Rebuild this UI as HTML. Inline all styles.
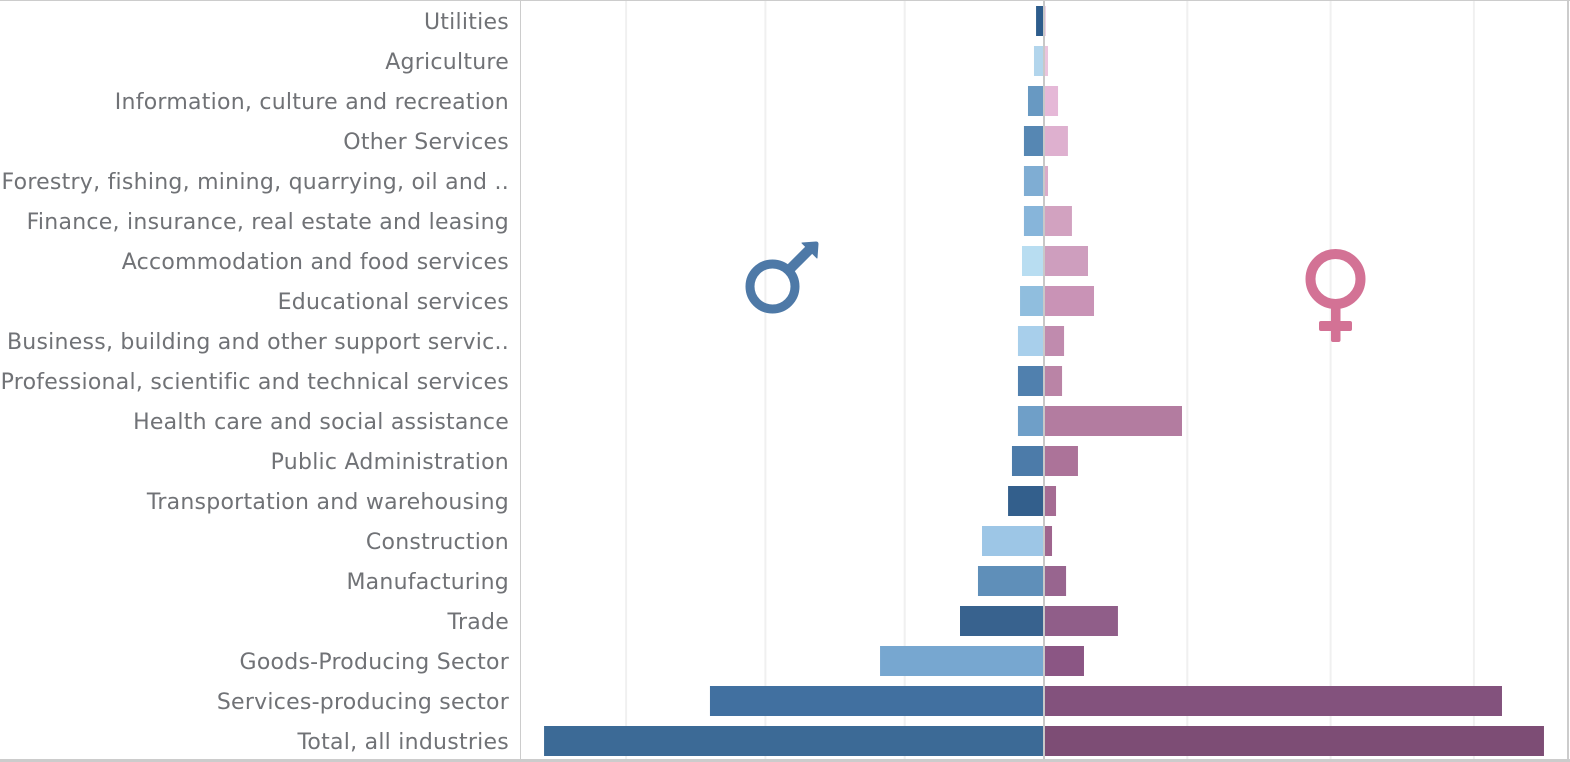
<!DOCTYPE html>
<html lang="en">
<head>
<meta charset="utf-8">
<title>Employment by industry and sex</title>
<style>
  html, body { margin: 0; padding: 0; background: #fff; }
  body { width: 1570px; height: 762px; overflow: hidden; }
  svg { display: block; }
  .cat { font-family: "DejaVu Sans", "Liberation Sans", sans-serif; font-size: 22px; letter-spacing: 0.25px; fill: #707276; text-anchor: end; }
</style>
</head>
<body>
<svg id="chart" width="1570" height="762" viewBox="0 0 1570 762" xmlns="http://www.w3.org/2000/svg">
  <rect x="0" y="0" width="1570" height="762" fill="#ffffff"/>
  <g id="grid"></g>
  <g id="bars"></g>
  <g id="labels"></g>
  <rect x="1043" y="0" width="2" height="760" fill="#c8c8c8"/>
  <rect x="520" y="0" width="1" height="760" fill="#cccccc"/>
  <rect x="0" y="0" width="1570" height="1" fill="#cccccc"/>
  <rect x="0" y="759" width="1570" height="3" fill="#cccccc"/>
  <rect x="1567" y="0" width="2" height="762" fill="#cccccc"/>
  <g>
    <circle cx="772.5" cy="286.5" r="22.5" fill="none" stroke="#4e79a7" stroke-width="9"/>
    <path d="M790 269 L810 249" stroke="#4e79a7" stroke-width="10" fill="none"/>
    <path d="M802 243 L816 242 Q818 242 818 244 L817 258 Z" fill="#4e79a7" stroke="#4e79a7" stroke-width="1" stroke-linejoin="round"/>
  </g>
  <g>
    <circle cx="1335.5" cy="279" r="25" fill="none" stroke="#d37295" stroke-width="10"/>
    <rect x="1331" y="303" width="9.5" height="39" rx="2" fill="#d37295"/>
    <rect x="1319" y="321" width="33" height="10" rx="2" fill="#d37295"/>
  </g>
</svg>
<script>
const categories = [
  "Utilities", "Agriculture", "Information, culture and recreation", "Other Services",
  "Forestry, fishing, mining, quarrying, oil and ..", "Finance, insurance, real estate and leasing",
  "Accommodation and food services", "Educational services",
  "Business, building and other support servic..", "Professional, scientific and technical services",
  "Health care and social assistance", "Public Administration",
  "Transportation and warehousing", "Construction", "Manufacturing", "Trade",
  "Goods-Producing Sector", "Services-producing sector", "Total, all industries"
];
const maleValues = [5.7, 7.2, 11.5, 14.4, 14.4, 14.4, 15.8, 17.2, 18.7, 18.7, 18.7, 23, 25.8, 44.5, 47.4, 60.3, 117.7, 239.8, 358.9];
const femaleValues = [1.4, 2.8, 9.8, 16.7, 2.8, 19.5, 30.7, 34.9, 14, 12.6, 96.3, 23.7, 8.4, 5.6, 15.4, 51.6, 27.9, 319.6, 348.9];
const gridTicks = [100, 200, 300];

const maleColors = ["#2d5c8c", "#b2d5ec", "#6899c2", "#5687b3", "#7fadd3", "#87b5da", "#b8ddf1", "#90bede", "#a8cfeb", "#5080ae", "#6f9fc8", "#4c7ba9", "#335f8c", "#9dc6e6", "#5f8fb9", "#38628e", "#77a7d0", "#4170a0", "#3c6a96"];
const femaleColors = ["#efd3e7", "#eac4dd", "#e5b8d7", "#deb0cf", "#d9abc9", "#d2a2c0", "#ce9ebe", "#c993b6", "#c08bae", "#ba84a6", "#b37ca0", "#ac7399", "#a56c93", "#9f658e", "#98658f", "#905e89", "#8b5684", "#83527d", "#7d4d75"];

const svgNS = "http://www.w3.org/2000/svg";
const zeroX = 1044;
const xMale = v => zeroX - v * 1.393;
const xFemale = v => zeroX + v * 1.433;
const rowTop = i => 6 + 40 * i;
const barHeight = 30;

function slug(s) {
  return s.toLowerCase().replace(/[^a-z0-9]+/g, "-").replace(/^-|-$/g, "");
}
function rect(x, y, w, h, fill) {
  const r = document.createElementNS(svgNS, "rect");
  r.setAttribute("x", x);
  r.setAttribute("y", y);
  r.setAttribute("width", w);
  r.setAttribute("height", h);
  r.setAttribute("fill", fill);
  return r;
}

const gridG = document.getElementById("grid");
gridTicks.forEach(t => {
  const left = rect(xMale(t) - 1, 0, 2, 760, "#f0f0f0");
  
  
  gridG.appendChild(left);
  const right = rect(xFemale(t) - 1, 0, 2, 760, "#f0f0f0");
  
  
  gridG.appendChild(right);
});

const barsG = document.getElementById("bars");
const labelsG = document.getElementById("labels");
categories.forEach((c, i) => {
  const m = rect(xMale(maleValues[i]), rowTop(i), zeroX - xMale(maleValues[i]), barHeight, maleColors[i]);
  
  
  barsG.appendChild(m);

  const f = rect(zeroX, rowTop(i), xFemale(femaleValues[i]) - zeroX, barHeight, femaleColors[i]);
  
  
  barsG.appendChild(f);

  const t = document.createElementNS(svgNS, "text");
  t.setAttribute("x", 509);
  t.setAttribute("y", rowTop(i) + 23);
  t.setAttribute("class", "cat");
  t.textContent = c;
  
  
  labelsG.appendChild(t);
});
</script>
</body>
</html>
